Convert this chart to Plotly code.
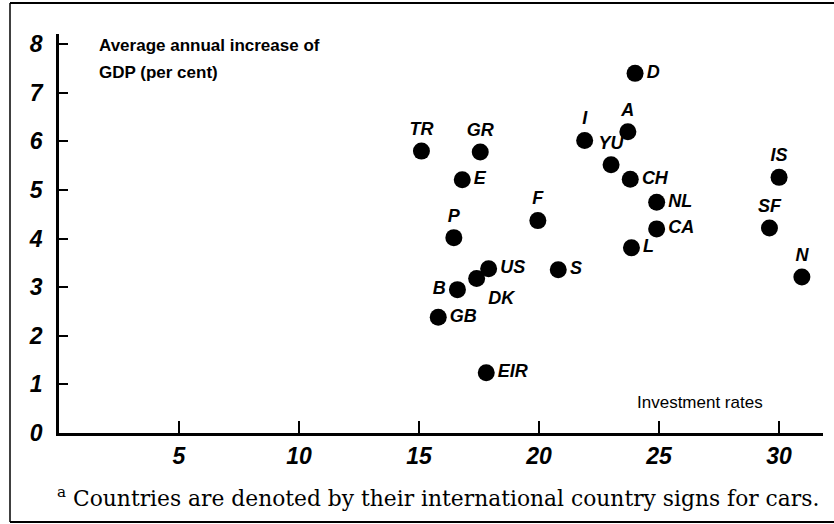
import plotly.graph_objects as go

countries = ["D", "A", "I", "TR", "GR", "YU", "E", "CH", "IS", "NL", "F", "CA", "SF", "P",
             "L", "N", "US", "S", "DK", "B", "GB", "EIR"]
investment = [24.0, 23.7, 21.9, 15.1, 17.55, 23.0, 16.8, 23.8, 30.0, 24.9, 19.95, 24.9, 29.6, 16.45,
              23.85, 30.95, 17.9, 20.8, 17.4, 16.6, 15.8, 17.8]
gdp_growth = [7.40, 6.20, 6.02, 5.80, 5.78, 5.52, 5.21, 5.22, 5.26, 4.75, 4.37, 4.20, 4.22, 4.02,
              3.81, 3.21, 3.38, 3.36, 3.18, 2.95, 2.38, 1.24]
label_pos = ["middle right", "top center", "top center", "top center", "top center", "top center",
             "middle right", "middle right", "top center", "middle right", "top center", "middle right",
             "top center", "top center", "middle right", "top center", "middle right", "middle right",
             "bottom right", "middle left", "middle right", "middle right"]

x_ticks = [5, 10, 15, 20, 25, 30]
y_ticks = [0, 1, 2, 3, 4, 5, 6, 7, 8]

fig = go.Figure()
fig.add_trace(go.Scatter(
    x=investment, y=gdp_growth, mode="markers+text",
    text=countries, textposition=label_pos,
    marker=dict(size=17, color="black"),
    textfont=dict(family="Liberation Sans", size=18, color="black", weight="bold", style="italic"),
    cliponaxis=False, hoverinfo="skip",
))

axis_font = dict(family="Liberation Sans", size=23, color="black", weight="bold", style="italic")
fig.update_layout(
    width=834, height=524,
    margin=dict(l=59, r=11, t=34, b=91),
    paper_bgcolor="white", plot_bgcolor="white",
    showlegend=False,
    xaxis=dict(range=[0, 31.83], tickvals=x_ticks, ticktext=[str(v) for v in x_ticks],
               showline=True, linecolor="black", linewidth=2.5, ticks="inside", ticklen=12,
               tickwidth=2, tickcolor="black", showgrid=False, zeroline=False,
               tickfont=axis_font, ticklabelstandoff=1),
    yaxis=dict(range=[0, 8.21], tickvals=y_ticks, ticktext=[str(v) for v in y_ticks],
               showline=True, linecolor="black", linewidth=2.5, ticks="inside", ticklen=9,
               tickwidth=2, tickcolor="black", showgrid=False, zeroline=False,
               tickfont=axis_font, ticklabelstandoff=9),
)

title_font = dict(family="Liberation Sans", size=17, color="black", weight="bold")
fig.add_annotation(text="Average annual increase of", xref="paper", yref="paper",
                   x=(97 - 59) / 764, y=(433 - 45) / 399, xanchor="left", yanchor="middle",
                   showarrow=False, font=title_font)
fig.add_annotation(text="GDP (per cent)", xref="paper", yref="paper",
                   x=(97 - 59) / 764, y=(433 - 72) / 399, xanchor="left", yanchor="middle",
                   showarrow=False, font=title_font)
fig.add_annotation(text="Investment rates", xref="paper", yref="paper",
                   x=(700 - 59) / 764, y=(433 - 402) / 399, xanchor="center", yanchor="middle",
                   showarrow=False,
                   font=dict(family="Liberation Sans", size=17, color="black"))
fig.add_annotation(text="<sup>a</sup> Countries are denoted by their international country signs for cars.",
                   xref="paper", yref="paper",
                   x=(55 - 59) / 764, y=(433 - 497) / 399, xanchor="left", yanchor="middle",
                   showarrow=False,
                   font=dict(family="DejaVu Serif", size=21.8, color="black"))

# page frame lines
fig.add_shape(type="line", xref="paper", yref="paper", x0=(10 - 59) / 764, x1=(834 - 59) / 764,
              y0=(433 - 3) / 399, y1=(433 - 3) / 399, line=dict(color="black", width=2))
fig.add_shape(type="line", xref="paper", yref="paper", x0=(10 - 59) / 764, x1=(834 - 59) / 764,
              y0=(433 - 522) / 399, y1=(433 - 522) / 399, line=dict(color="black", width=2))
fig.add_shape(type="line", xref="paper", yref="paper", x0=(10 - 59) / 764, x1=(10 - 59) / 764,
              y0=(433 - 3) / 399, y1=(433 - 522) / 399, line=dict(color="black", width=1.5))

fig.write_html("out.html", config={"displayModeBar": False},
               post_script="document.body.style.margin='0';")
